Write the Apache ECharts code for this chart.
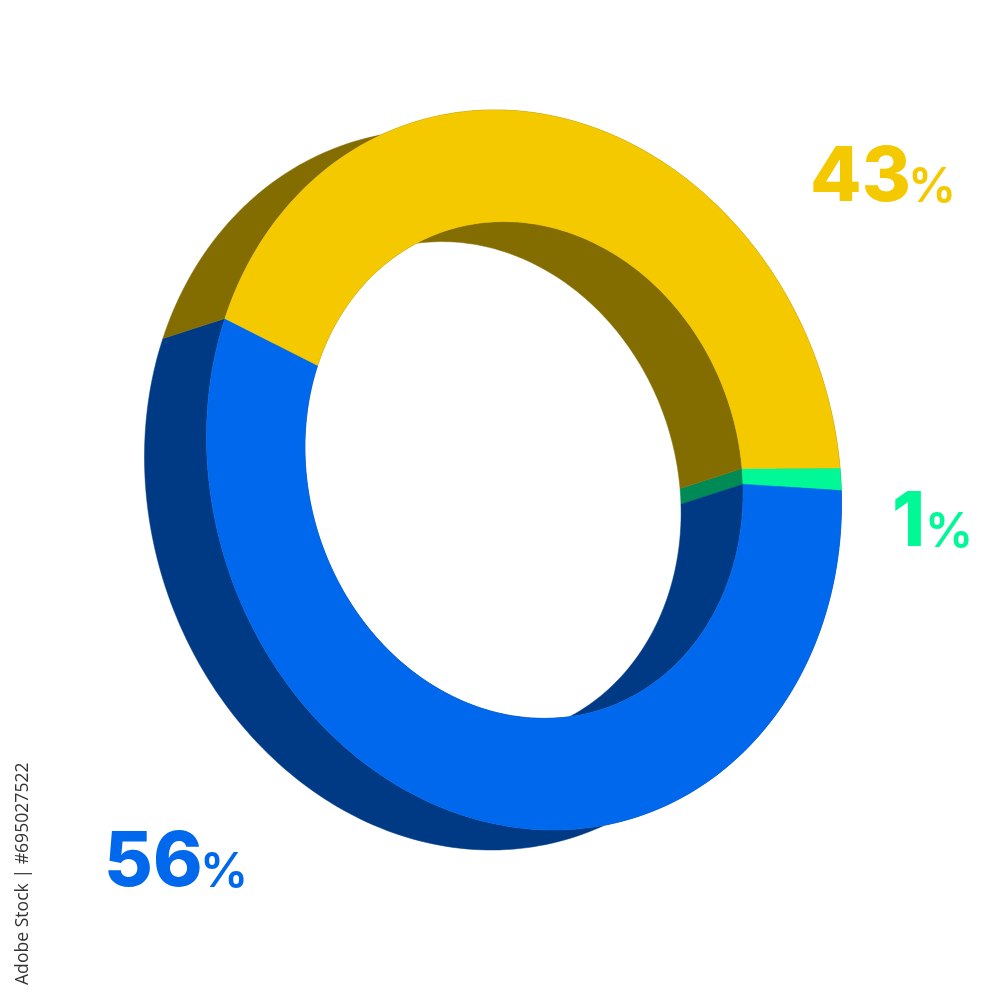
<!DOCTYPE html>
<html><head><meta charset="utf-8">
<style>html,body{margin:0;padding:0;background:#fff}#c{width:1000px;height:1000px}</style>
<script src="https://cdn.jsdelivr.net/npm/echarts@6/dist/echarts.min.js"></script>
</head><body><div id="c"></div>
<script>
// Data, clockwise from the right-hand side of the ring
const categories = ['green', 'blue', 'yellow'];
const values = [1, 56, 43];
const faceColors = ['#00F897', '#0068EC', '#F4C900'];
const wallColors = ['#008A55', '#003A85', '#846D00'];

// Oblique projection of the ring
const center = [524, 470];
const axisU = [316, -2];
const axisV = [31, 360];
const depth = [-62, 20];
const holeRatio = 0.69;
const POLAR_R = 100;

let acc = 0;
const spans = values.map(v => { const s = [acc, acc + v]; acc += v; return s; });

function project(api, r, pct, off) {
  const p = api.coord([r, pct]);
  const a = (p[0] - center[0]) / POLAR_R, b = (p[1] - center[1]) / POLAR_R;
  return [center[0] + axisU[0] * a + axisV[0] * b + (off ? depth[0] : 0),
          center[1] + axisU[1] * a + axisV[1] * b + (off ? depth[1] : 0)];
}
function arc(api, r, s, e, off) {
  const n = Math.max(4, Math.ceil((e - s) * 3)), pts = [];
  for (let i = 0; i <= n; i++) pts.push(project(api, r, s + (e - s) * i / n, off));
  return pts;
}
function wall(params, api) {
  const s = api.value(0), e = api.value(1), c = wallColors[params.dataIndex];
  const mk = r => ({ type: 'polygon',
    shape: { points: arc(api, r, s, e, false).concat(arc(api, r, s, e, true).reverse()) },
    style: { fill: c, stroke: c, lineWidth: 0.5 } });
  return { type: 'group', children: [mk(1), mk(holeRatio)] };
}
function face(params, api) {
  const s = api.value(0), e = api.value(1), c = faceColors[params.dataIndex];
  return { type: 'polygon',
    shape: { points: arc(api, 1, s, e, false).concat(arc(api, holeRatio, s, e, false).reverse()) },
    style: { fill: c, stroke: c, lineWidth: 0.5 } };
}
function pctLabel(x, y, px, py, val, color) {
  return [
    { type: 'text', x: x, y: y, z: 10,
      style: { text: String(val), fontFamily: 'Inter', fontWeight: 800, fontSize: 75, fill: color } },
    { type: 'text', x: px, y: py, z: 10,
      style: { text: '%', fontFamily: 'Inter', fontWeight: 600, fontSize: 48, fill: color } }
  ];
}
const chart = echarts.init(document.getElementById('c'), null, { renderer: 'canvas' });
chart.setOption({
  animation: false,
  backgroundColor: '#ffffff',
  polar: { center: center, radius: POLAR_R },
  radiusAxis: { type: 'value', min: 0, max: 1, show: false },
  angleAxis: { type: 'value', min: 0, max: 100, startAngle: 0, clockwise: true, show: false },
  series: [
    { type: 'custom', coordinateSystem: 'polar', z: 1, silent: true, data: spans, renderItem: wall, clip: false },
    { type: 'custom', coordinateSystem: 'polar', z: 2, silent: true, data: spans, renderItem: face, clip: false }
  ],
  graphic: [
    ...pctLabel(810, 141, 908, 163.5, values[2], faceColors[2]),
    ...pctLabel(892, 486, 925, 509, values[0], faceColors[0]),
    ...pctLabel(104, 826, 200, 849, values[1], faceColors[1]),
    { type: 'text', x: 14, y: 985, rotation: Math.PI / 2, z: 10, originX: 0, originY: 0,
      style: { text: 'Adobe Stock | #695027522', fontFamily: 'Open Sans', fontSize: 17.6, fill: '#333333' } }
  ]
});
</script></body></html>
